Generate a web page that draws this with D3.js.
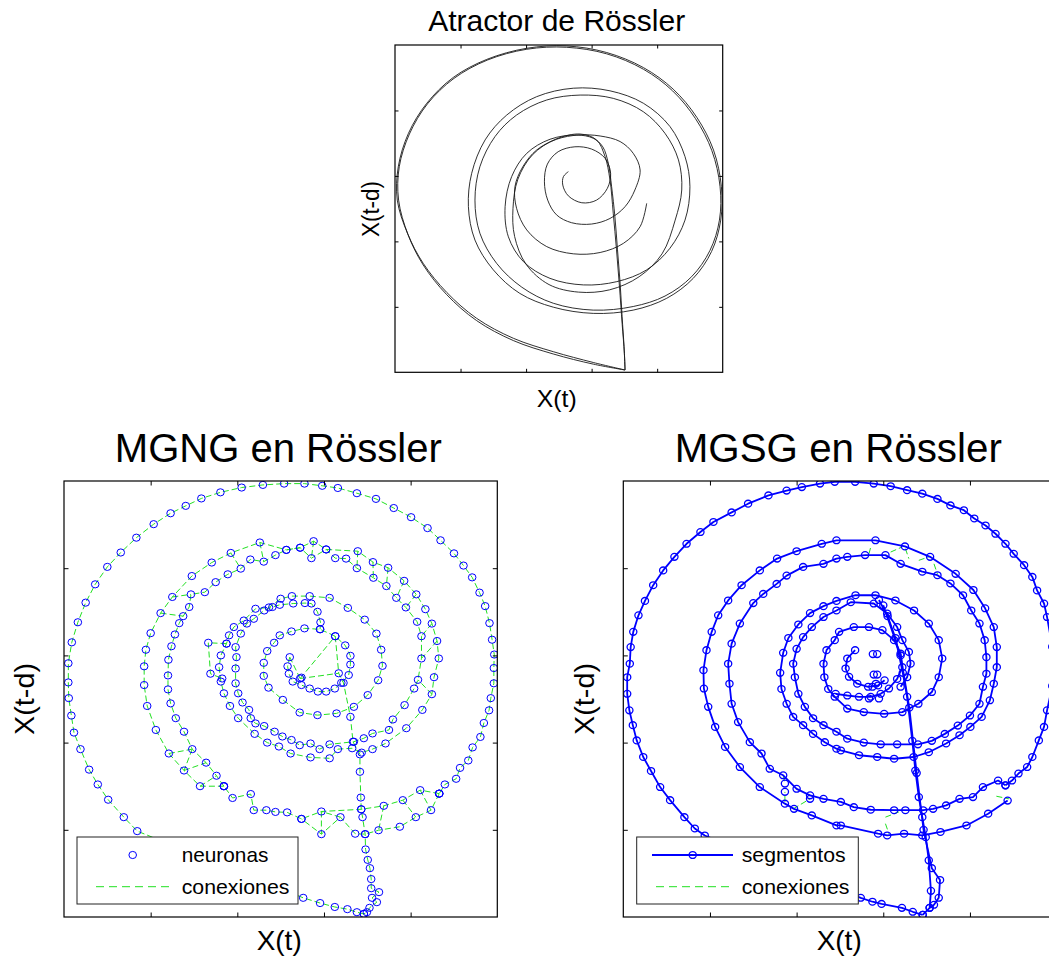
<!DOCTYPE html>
<html>
<head>
<meta charset="utf-8">
<script src="https://cdn.jsdelivr.net/npm/d3@7"></script>
<style>
  body { margin: 0; background: #fff; }
  text { font-family: "Liberation Sans", Arial, Helvetica, sans-serif; fill: #000; }
</style>
</head>
<body>
<svg id="fig" width="1049" height="974"></svg>
<script>
// ---- shared axis settings (normalised series, ticks unlabeled) ----
const tickValues = [0.2, 0.4, 0.6, 0.8];
const titles = ["Atractor de Rössler", "MGNG en Rössler", "MGSG en Rössler"];
const axisLabels = { x: "X(t)", y: "X(t-d)" };
const legendMGNG = ["neuronas", "conexiones"];
const legendMGSG = ["segmentos", "conexiones"];

// ---- Rössler trajectory passes, embedding (x(t), x(t-d)) ----
const rosslerPass1 = [[0.702,0.007],[0.605,0.030],[0.483,0.063],[0.361,0.104],[0.249,0.165],[0.158,0.244],[0.086,0.333],[0.038,0.425],[0.007,0.526],[0.010,0.628],[0.041,0.730],[0.097,0.822],[0.178,0.901],[0.280,0.956],[0.402,0.990],[0.524,0.997],[0.646,0.977],[0.758,0.931],[0.849,0.865],[0.921,0.779],[0.972,0.679],[0.996,0.567],[0.994,0.465],[0.966,0.369],[0.910,0.287],[0.829,0.226],[0.727,0.190],[0.605,0.180],[0.483,0.199],[0.381,0.241],[0.300,0.313],[0.244,0.404],[0.224,0.506],[0.234,0.608],[0.275,0.710],[0.341,0.786],[0.432,0.842],[0.544,0.868],[0.656,0.860],[0.758,0.822],[0.839,0.751],[0.885,0.659],[0.900,0.567],[0.885,0.465],[0.839,0.379],[0.768,0.313],[0.677,0.277],[0.575,0.267],[0.473,0.287],[0.392,0.338],[0.346,0.414],[0.336,0.506],[0.356,0.598],[0.402,0.669],[0.473,0.712],[0.554,0.725],[0.605,0.715],[0.634,0.689],[0.651,0.638],[0.661,0.567],[0.671,0.476],[0.679,0.374],[0.687,0.272],[0.693,0.170],[0.699,0.078],[0.702,0.007]];
const rosslerPass2 = [[0.702,0.007],[0.605,0.025],[0.483,0.056],[0.361,0.097],[0.249,0.158],[0.158,0.237],[0.086,0.328],[0.040,0.420],[0.011,0.526],[0.013,0.628],[0.044,0.728],[0.099,0.820],[0.180,0.898],[0.282,0.954],[0.402,0.987],[0.524,0.993],[0.646,0.973],[0.758,0.926],[0.847,0.860],[0.917,0.775],[0.967,0.677],[0.992,0.567],[0.990,0.465],[0.961,0.372],[0.905,0.292],[0.824,0.233],[0.727,0.201],[0.605,0.190],[0.483,0.211],[0.387,0.260],[0.310,0.333],[0.259,0.425],[0.244,0.526],[0.259,0.628],[0.305,0.720],[0.371,0.786],[0.463,0.832],[0.565,0.847],[0.666,0.837],[0.758,0.796],[0.824,0.730],[0.865,0.649],[0.875,0.557],[0.855,0.465],[0.815,0.362],[0.745,0.292],[0.655,0.252],[0.560,0.245],[0.470,0.268],[0.400,0.330],[0.365,0.415],[0.360,0.500],[0.375,0.590],[0.420,0.665],[0.490,0.712],[0.565,0.728],[0.615,0.710],[0.641,0.659],[0.656,0.588],[0.666,0.486],[0.676,0.374],[0.685,0.262],[0.693,0.150],[0.700,0.058],[0.702,0.007]];
const rosslerPass3 = [[0.529,0.613],[0.514,0.598],[0.512,0.572],[0.529,0.539],[0.570,0.518],[0.615,0.526],[0.648,0.562],[0.658,0.608],[0.641,0.654],[0.600,0.682],[0.549,0.689],[0.498,0.674],[0.465,0.636],[0.456,0.582],[0.466,0.526],[0.493,0.481],[0.539,0.457],[0.600,0.453],[0.656,0.470],[0.702,0.506],[0.732,0.557],[0.748,0.618],[0.727,0.669],[0.687,0.705],[0.626,0.722],[0.560,0.725],[0.493,0.712],[0.432,0.679],[0.390,0.628],[0.366,0.567],[0.371,0.501],[0.402,0.435],[0.463,0.384],[0.544,0.362],[0.626,0.366],[0.697,0.394],[0.748,0.445],[0.768,0.516]];

// ---- MGNG neurons, listed along the chains they are connected by ----
const mgngOuter = [[0.692,0.007],[0.676,0.011],[0.654,0.018],[0.625,0.023],[0.591,0.032],[0.552,0.044],[0.169,0.197],[0.138,0.229],[0.102,0.269],[0.078,0.304],[0.058,0.338],[0.038,0.385],[0.023,0.423],[0.017,0.462],[0.011,0.502],[0.010,0.538],[0.010,0.582],[0.018,0.630],[0.032,0.676],[0.050,0.721],[0.072,0.763],[0.100,0.803],[0.131,0.836],[0.167,0.870],[0.207,0.901],[0.246,0.926],[0.281,0.943],[0.317,0.960],[0.361,0.974],[0.410,0.985],[0.459,0.991],[0.508,0.994],[0.555,0.994],[0.596,0.989],[0.632,0.984],[0.676,0.972],[0.720,0.959],[0.761,0.938],[0.801,0.917],[0.839,0.892],[0.869,0.864],[0.900,0.834],[0.922,0.806],[0.942,0.779],[0.959,0.744],[0.972,0.713],[0.982,0.674],[0.988,0.636],[0.993,0.602],[0.992,0.571],[0.992,0.536],[0.985,0.502],[0.981,0.474],[0.969,0.445],[0.961,0.413],[0.943,0.389],[0.933,0.359],[0.914,0.342],[0.905,0.317],[0.879,0.304],[0.866,0.283]];
const mgngLowA = [[0.866,0.283],[0.847,0.245],[0.812,0.229],[0.775,0.207],[0.726,0.199],[0.695,0.190],[0.672,0.191],[0.638,0.229],[0.594,0.190],[0.548,0.225]];
const mgngLowB = [[0.866,0.283],[0.822,0.291],[0.782,0.268],[0.738,0.255],[0.686,0.247],[0.594,0.242],[0.548,0.225],[0.515,0.240],[0.488,0.241],[0.467,0.245],[0.438,0.245],[0.431,0.282],[0.389,0.273],[0.369,0.300]];
const mgngSpiralA = [[0.369,0.300],[0.314,0.300],[0.277,0.336],[0.242,0.375],[0.212,0.429],[0.192,0.484],[0.185,0.532],[0.185,0.575],[0.189,0.613],[0.200,0.651],[0.223,0.697],[0.250,0.734],[0.295,0.782],[0.341,0.813],[0.385,0.835],[0.452,0.859],[0.513,0.842],[0.545,0.847],[0.576,0.862],[0.605,0.843],[0.678,0.839],[0.713,0.814],[0.748,0.801],[0.785,0.771],[0.813,0.740],[0.834,0.706],[0.849,0.673],[0.861,0.633],[0.865,0.593],[0.854,0.550],[0.849,0.511],[0.827,0.475],[0.790,0.433],[0.742,0.398],[0.712,0.385],[0.687,0.377],[0.665,0.387],[0.632,0.385],[0.613,0.364],[0.569,0.366],[0.523,0.375],[0.496,0.391],[0.469,0.400],[0.440,0.420],[0.402,0.456],[0.383,0.484],[0.369,0.513],[0.362,0.540],[0.358,0.573],[0.362,0.600],[0.375,0.627],[0.381,0.646],[0.392,0.665],[0.415,0.680],[0.442,0.707],[0.473,0.710],[0.500,0.730],[0.526,0.736],[0.567,0.736],[0.613,0.732],[0.655,0.709],[0.694,0.682],[0.721,0.650],[0.732,0.613],[0.735,0.576],[0.725,0.543],[0.701,0.509],[0.669,0.482],[0.629,0.467],[0.585,0.463],[0.544,0.469],[0.505,0.498],[0.472,0.526],[0.461,0.553],[0.461,0.583],[0.469,0.610],[0.485,0.629],[0.498,0.646],[0.525,0.655],[0.555,0.662],[0.591,0.660],[0.626,0.644],[0.649,0.623],[0.661,0.599],[0.661,0.579],[0.657,0.555],[0.640,0.537],[0.625,0.524],[0.605,0.517],[0.586,0.517],[0.567,0.524],[0.548,0.532],[0.528,0.540],[0.519,0.558],[0.516,0.575],[0.521,0.596]];
const mgngSpiralB = [[0.369,0.300],[0.352,0.324],[0.328,0.354],[0.296,0.385],[0.277,0.425],[0.258,0.456],[0.246,0.490],[0.240,0.522],[0.240,0.554],[0.241,0.590],[0.248,0.621],[0.256,0.648],[0.266,0.674],[0.275,0.690],[0.289,0.711],[0.293,0.740],[0.325,0.745],[0.350,0.768],[0.378,0.786],[0.408,0.799],[0.430,0.820],[0.461,0.815],[0.488,0.830],[0.513,0.842],[0.545,0.847],[0.571,0.823],[0.605,0.843],[0.626,0.823],[0.651,0.822],[0.676,0.800],[0.714,0.778],[0.744,0.759],[0.767,0.732],[0.789,0.710],[0.815,0.677],[0.825,0.644],[0.825,0.593],[0.817,0.544],[0.808,0.524],[0.786,0.486],[0.759,0.453],[0.750,0.429],[0.712,0.421],[0.692,0.410],[0.669,0.402],[0.613,0.396],[0.590,0.385],[0.569,0.398],[0.544,0.394],[0.525,0.406],[0.504,0.414],[0.486,0.425],[0.462,0.438],[0.442,0.444],[0.431,0.456],[0.427,0.475],[0.412,0.492],[0.402,0.513],[0.396,0.536],[0.396,0.570],[0.398,0.596],[0.396,0.619],[0.408,0.650],[0.422,0.673],[0.438,0.684],[0.462,0.703],[0.481,0.711],[0.498,0.716],[0.529,0.719],[0.556,0.720],[0.571,0.719],[0.585,0.700],[0.592,0.676],[0.591,0.660]];
const mgngStem = [[0.626,0.644],[0.634,0.559],[0.645,0.537],[0.661,0.459],[0.667,0.402],[0.683,0.373],[0.683,0.333],[0.685,0.274],[0.686,0.247],[0.689,0.229],[0.695,0.190],[0.696,0.155],[0.701,0.131],[0.706,0.112],[0.709,0.087],[0.709,0.066],[0.727,0.057],[0.711,0.044],[0.722,0.034],[0.705,0.021],[0.699,0.011],[0.692,0.007]];
const mgngSide = [[0.375,0.627],[0.333,0.629],[0.338,0.558],[0.365,0.547]];
const mgngCore = [[0.545,0.547],[0.548,0.549]];
const mgngLinks = [
  [[0.545,0.547],[0.626,0.644]], [[0.545,0.547],[0.634,0.559]], [[0.545,0.547],[0.521,0.596]],
  [[0.638,0.229],[0.594,0.242]], [[0.782,0.268],[0.812,0.229]], [[0.822,0.291],[0.847,0.245]],
  [[0.738,0.255],[0.726,0.199]], [[0.594,0.242],[0.594,0.190]], [[0.314,0.300],[0.352,0.324]],
  [[0.277,0.336],[0.328,0.354]], [[0.242,0.375],[0.296,0.385]], [[0.296,0.385],[0.277,0.336]],
  [[0.385,0.835],[0.408,0.799]], [[0.452,0.859],[0.461,0.815]], [[0.576,0.862],[0.571,0.823]],
  [[0.678,0.839],[0.676,0.800]], [[0.713,0.814],[0.714,0.778]], [[0.748,0.801],[0.744,0.759]],
  [[0.785,0.771],[0.767,0.732]], [[0.813,0.740],[0.789,0.710]], [[0.849,0.673],[0.825,0.644]],
  [[0.861,0.633],[0.825,0.593]], [[0.849,0.511],[0.817,0.544]], [[0.250,0.734],[0.293,0.740]],
  [[0.223,0.697],[0.275,0.690]]
];

// ---- MGSG segments (polylines with node markers) ----
const mgsgOuter = [[0.691,0.005],[0.668,0.012],[0.643,0.021],[0.596,0.030],[0.575,0.035],[0.548,0.044],[0.188,0.187],[0.165,0.203],[0.141,0.229],[0.108,0.268],[0.085,0.298],[0.064,0.335],[0.046,0.367],[0.031,0.405],[0.022,0.440],[0.014,0.474],[0.009,0.512],[0.009,0.550],[0.015,0.581],[0.017,0.619],[0.023,0.654],[0.035,0.692],[0.050,0.725],[0.069,0.761],[0.092,0.795],[0.118,0.826],[0.146,0.856],[0.178,0.883],[0.208,0.906],[0.250,0.928],[0.288,0.948],[0.335,0.967],[0.377,0.978],[0.412,0.986],[0.454,0.994],[0.488,0.998],[0.535,0.998],[0.578,0.994],[0.617,0.988],[0.655,0.979],[0.690,0.971],[0.725,0.959],[0.755,0.944],[0.786,0.933],[0.810,0.914],[0.836,0.898],[0.859,0.879],[0.882,0.856],[0.901,0.833],[0.925,0.807],[0.944,0.780],[0.955,0.749],[0.971,0.719],[0.978,0.688],[0.990,0.620],[0.990,0.530],[0.978,0.474],[0.971,0.436],[0.959,0.405],[0.944,0.367],[0.932,0.344],[0.912,0.329],[0.897,0.313],[0.882,0.302]];
const mgsgBandA = [[0.882,0.302],[0.865,0.313],[0.830,0.298],[0.807,0.275],[0.776,0.271],[0.745,0.256],[0.715,0.248],[0.692,0.245],[0.651,0.245],[0.625,0.245],[0.571,0.246],[0.532,0.252],[0.502,0.264],[0.462,0.271],[0.431,0.279],[0.400,0.294],[0.369,0.325],[0.338,0.340],[0.319,0.375],[0.292,0.401],[0.265,0.447],[0.250,0.489],[0.245,0.535],[0.242,0.581],[0.250,0.627],[0.269,0.673],[0.300,0.720],[0.323,0.741],[0.354,0.764],[0.377,0.783],[0.415,0.803],[0.462,0.810],[0.492,0.822],[0.517,0.826],[0.558,0.830],[0.605,0.830],[0.640,0.810],[0.690,0.792],[0.725,0.784],[0.755,0.765],[0.784,0.738],[0.803,0.703],[0.822,0.673],[0.834,0.635],[0.838,0.596],[0.838,0.558],[0.830,0.528],[0.822,0.489],[0.800,0.462],[0.772,0.439],[0.742,0.420],[0.712,0.404],[0.680,0.396],[0.632,0.396],[0.594,0.396],[0.555,0.400],[0.517,0.409],[0.492,0.425],[0.462,0.440],[0.438,0.456],[0.419,0.482],[0.404,0.512],[0.396,0.550],[0.392,0.581],[0.400,0.615],[0.415,0.642],[0.435,0.665],[0.462,0.688],[0.492,0.703],[0.525,0.722],[0.578,0.719],[0.609,0.696],[0.632,0.665],[0.644,0.635],[0.659,0.608],[0.663,0.581],[0.655,0.550],[0.640,0.528]];
const mgsgBandB = [[0.887,0.267],[0.842,0.237],[0.792,0.210],[0.732,0.195],[0.690,0.187],[0.648,0.191],[0.609,0.187],[0.588,0.191],[0.502,0.210],[0.492,0.210],[0.435,0.233],[0.394,0.248],[0.373,0.260],[0.315,0.298],[0.269,0.344],[0.235,0.390],[0.212,0.436],[0.196,0.482],[0.186,0.524],[0.185,0.566],[0.192,0.612],[0.204,0.654],[0.219,0.692],[0.242,0.726],[0.273,0.761],[0.315,0.795],[0.355,0.822],[0.400,0.839],[0.458,0.856],[0.492,0.864],[0.582,0.864],[0.650,0.850],[0.708,0.826],[0.767,0.787],[0.808,0.750],[0.835,0.708],[0.855,0.665],[0.862,0.619],[0.862,0.573],[0.855,0.535],[0.846,0.497],[0.827,0.459],[0.801,0.436],[0.776,0.417],[0.745,0.398],[0.705,0.378],[0.670,0.367],[0.625,0.363],[0.586,0.367],[0.544,0.371],[0.502,0.382],[0.492,0.386],[0.465,0.401],[0.438,0.420],[0.415,0.440],[0.392,0.459],[0.377,0.489],[0.365,0.523],[0.362,0.560],[0.369,0.606],[0.381,0.640],[0.404,0.671],[0.431,0.697],[0.462,0.713],[0.492,0.725],[0.536,0.738],[0.582,0.738],[0.628,0.726],[0.671,0.703],[0.705,0.673],[0.728,0.635],[0.736,0.593],[0.728,0.550],[0.712,0.516],[0.681,0.489],[0.644,0.470],[0.602,0.466],[0.555,0.470],[0.517,0.478],[0.488,0.505],[0.473,0.523],[0.464,0.550],[0.462,0.581],[0.469,0.612],[0.488,0.635],[0.498,0.654],[0.532,0.665],[0.567,0.665],[0.598,0.658],[0.625,0.635],[0.640,0.604],[0.644,0.573],[0.632,0.546],[0.613,0.524],[0.594,0.512],[0.571,0.505],[0.544,0.505],[0.517,0.508],[0.490,0.512]];
const mgsgCore = [[0.535,0.612],[0.517,0.593],[0.513,0.570],[0.521,0.551],[0.540,0.535],[0.565,0.528],[0.588,0.531],[0.603,0.543]];
const mgsgStemA = [[0.590,0.727],[0.610,0.690],[0.628,0.640],[0.645,0.560],[0.655,0.505],[0.667,0.404],[0.674,0.336],[0.682,0.275],[0.690,0.229],[0.698,0.183],[0.705,0.130],[0.710,0.060],[0.707,0.021],[0.691,0.005]];
const mgsgStemB = [[0.600,0.715],[0.640,0.600],[0.660,0.480],[0.677,0.330],[0.693,0.200],[0.712,0.112],[0.731,0.085],[0.728,0.044],[0.717,0.028],[0.707,0.021]];
const mgsgLoose = [[0.576,0.603],[0.586,0.603],[0.578,0.556],[0.586,0.556],[0.567,0.501],[0.590,0.501],[0.575,0.528],[0.583,0.535],[0.373,0.306],[0.373,0.287],[0.431,0.271]];
const mgsgLinks = [
  [[0.369,0.325],[0.373,0.306]], [[0.373,0.264],[0.373,0.287]], [[0.392,0.248],[0.431,0.271]],
  [[0.567,0.833],[0.572,0.852]], [[0.617,0.837],[0.644,0.849]], [[0.651,0.845],[0.659,0.822]],
  [[0.682,0.818],[0.705,0.826]], [[0.717,0.810],[0.725,0.787]], [[0.861,0.277],[0.890,0.271]],
  [[0.605,0.229],[0.636,0.241]], [[0.605,0.214],[0.613,0.191]]
];

// ---- drawing ----
const svg = d3.select("#fig");
const BLUE = "#0000ff", GREEN = "#22e022";

function makePanel(id, x0, x1, yTop, yBot, tick) {
  const x = d3.scaleLinear().domain([0, 1]).range([x0, x1]);
  const y = d3.scaleLinear().domain([0, 1]).range([yBot, yTop]);
  svg.append("clipPath").attr("id", id)
    .append("rect").attr("x", x0).attr("y", yTop).attr("width", x1 - x0).attr("height", yBot - yTop);
  const data = svg.append("g").attr("clip-path", `url(#${id})`);
  return { x, y, data, x0, x1, yTop, yBot, tick };
}

function drawFrame(p) {
  const g = svg.append("g");
  const fmt = () => "";
  g.append("g").attr("transform", `translate(0,${p.yBot})`)
    .call(d3.axisBottom(p.x).tickValues(tickValues).tickSize(-p.tick).tickFormat(fmt));
  g.append("g").attr("transform", `translate(0,${p.yTop})`)
    .call(d3.axisTop(p.x).tickValues(tickValues).tickSize(-p.tick).tickFormat(fmt));
  g.append("g").attr("transform", `translate(${p.x0},0)`)
    .call(d3.axisLeft(p.y).tickValues(tickValues).tickSize(-p.tick).tickFormat(fmt));
  g.append("g").attr("transform", `translate(${p.x1},0)`)
    .call(d3.axisRight(p.y).tickValues(tickValues).tickSize(-p.tick).tickFormat(fmt));
  g.selectAll(".domain").remove();
  g.selectAll(".tick line").attr("stroke", "#000").attr("stroke-width", 1);
  g.append("rect").attr("x", p.x0).attr("y", p.yTop)
    .attr("width", p.x1 - p.x0).attr("height", p.yBot - p.yTop)
    .attr("fill", "none").attr("stroke", "#000").attr("stroke-width", 1.2);
}

function label(x, y, str, size, len, rotate, anchor) {
  const t = svg.append("text").attr("x", x).attr("y", y)
    .attr("text-anchor", anchor || "middle").attr("font-size", size)
    .attr("textLength", len).attr("lengthAdjust", "spacingAndGlyphs").text(str);
  if (rotate) t.attr("transform", `rotate(-90,${x},${y})`);
  return t;
}

// Top: attractor
const panelTop = makePanel("clipTop", 395, 722.7, 45, 372.3, 3.5);
const lineTop = d3.line().x(d => panelTop.x(d[0])).y(d => panelTop.y(d[1])).curve(d3.curveCatmullRom.alpha(0.5));
[rosslerPass1, rosslerPass2, rosslerPass3].forEach(pass => {
  panelTop.data.append("path").attr("d", lineTop(pass))
    .attr("fill", "none").attr("stroke", "#1a1a1a").attr("stroke-width", 0.9);
});
drawFrame(panelTop);
label(556.7, 31, titles[0], 30, 257);
label(556.7, 407, axisLabels.x, 24, 40);
label(379, 209, axisLabels.y, 23, 56, true);

// Bottom-left: MGNG
const panelLeft = makePanel("clipLeft", 64, 497.3, 481, 917, 4.5);
const lineL = d3.line().x(d => panelLeft.x(d[0])).y(d => panelLeft.y(d[1]));
const mgngChains = [mgngOuter, mgngLowA, mgngLowB, mgngSpiralA, mgngSpiralB, mgngStem, mgngSide];
const linkGroup = panelLeft.data.append("g").attr("fill", "none").attr("stroke", GREEN)
  .attr("stroke-width", 1).attr("stroke-dasharray", "6,3");
mgngChains.forEach(c => linkGroup.append("path").attr("d", lineL(c)));
mgngLinks.forEach(l => linkGroup.append("path").attr("d", lineL(l)));
const mgngNodes = [].concat(...mgngChains, mgngCore);
panelLeft.data.append("g").selectAll("ellipse").data(mgngNodes).join("ellipse")
  .attr("cx", d => panelLeft.x(d[0])).attr("cy", d => panelLeft.y(d[1]))
  .attr("rx", 3.8).attr("ry", 3.6)
  .attr("fill", "none").attr("stroke", BLUE).attr("stroke-width", 1);
drawFrame(panelLeft);
label(278.3, 462, titles[1], 40, 327);
label(279.2, 950, axisLabels.x, 28, 45);
label(34, 699, axisLabels.y, 28, 72, true);

// MGNG legend
const lgL = svg.append("g");
lgL.append("rect").attr("x", 77).attr("y", 837).attr("width", 221).attr("height", 67)
  .attr("fill", "#fff").attr("stroke", "#222").attr("stroke-width", 1);
lgL.append("ellipse").attr("cx", 132.7).attr("cy", 855).attr("rx", 3.8).attr("ry", 3.6)
  .attr("fill", "none").attr("stroke", BLUE).attr("stroke-width", 1);
lgL.append("line").attr("x1", 96).attr("x2", 173).attr("y1", 886.7).attr("y2", 886.7)
  .attr("stroke", GREEN).attr("stroke-width", 1).attr("stroke-dasharray", "8,5");
svg.append("text").attr("x", 181.7).attr("y", 862).attr("font-size", 21)
  .attr("textLength", 86.7).attr("lengthAdjust", "spacingAndGlyphs").text(legendMGNG[0]);
svg.append("text").attr("x", 181.7).attr("y", 894).attr("font-size", 21)
  .attr("textLength", 107.7).attr("lengthAdjust", "spacingAndGlyphs").text(legendMGNG[1]);

// Bottom-right: MGSG
const panelRight = makePanel("clipRight", 623.3, 1056.6, 481, 917, 4.5);
const lineR = d3.line().x(d => panelRight.x(d[0])).y(d => panelRight.y(d[1]));
const rLinks = panelRight.data.append("g").attr("fill", "none").attr("stroke", GREEN)
  .attr("stroke-width", 1).attr("stroke-dasharray", "6,3");
mgsgLinks.forEach(l => rLinks.append("path").attr("d", lineR(l)));
const mgsgSegs = [mgsgOuter, mgsgBandA, mgsgBandB, mgsgCore, mgsgStemA, mgsgStemB];
const segGroup = panelRight.data.append("g").attr("fill", "none").attr("stroke", BLUE)
  .attr("stroke-width", 1.8).attr("stroke-linejoin", "round");
mgsgSegs.forEach(s => segGroup.append("path").attr("d", lineR(s)));
const mgsgNodes = [].concat(...mgsgSegs, mgsgLoose);
panelRight.data.append("g").selectAll("ellipse").data(mgsgNodes).join("ellipse")
  .attr("cx", d => panelRight.x(d[0])).attr("cy", d => panelRight.y(d[1]))
  .attr("rx", 3.6).attr("ry", 3.4)
  .attr("fill", "none").attr("stroke", BLUE).attr("stroke-width", 1.3);
drawFrame(panelRight);
label(838.3, 462, titles[2], 40, 327);
label(839.2, 950, axisLabels.x, 28, 45);
label(593.5, 699, axisLabels.y, 28, 72, true);

// MGSG legend
const lgR = svg.append("g");
lgR.append("rect").attr("x", 636.7).attr("y", 837).attr("width", 221.6).attr("height", 67)
  .attr("fill", "#fff").attr("stroke", "#222").attr("stroke-width", 1);
lgR.append("line").attr("x1", 652).attr("x2", 733).attr("y1", 855).attr("y2", 855)
  .attr("stroke", BLUE).attr("stroke-width", 1.8);
lgR.append("ellipse").attr("cx", 692.7).attr("cy", 855).attr("rx", 3.6).attr("ry", 3.4)
  .attr("fill", "none").attr("stroke", BLUE).attr("stroke-width", 1.3);
lgR.append("line").attr("x1", 656).attr("x2", 733).attr("y1", 886.7).attr("y2", 886.7)
  .attr("stroke", GREEN).attr("stroke-width", 1).attr("stroke-dasharray", "8,5");
svg.append("text").attr("x", 741.7).attr("y", 862).attr("font-size", 21)
  .attr("textLength", 104).attr("lengthAdjust", "spacingAndGlyphs").text(legendMGSG[0]);
svg.append("text").attr("x", 741.7).attr("y", 894).attr("font-size", 21)
  .attr("textLength", 107.7).attr("lengthAdjust", "spacingAndGlyphs").text(legendMGSG[1]);
</script>
</body>
</html>
